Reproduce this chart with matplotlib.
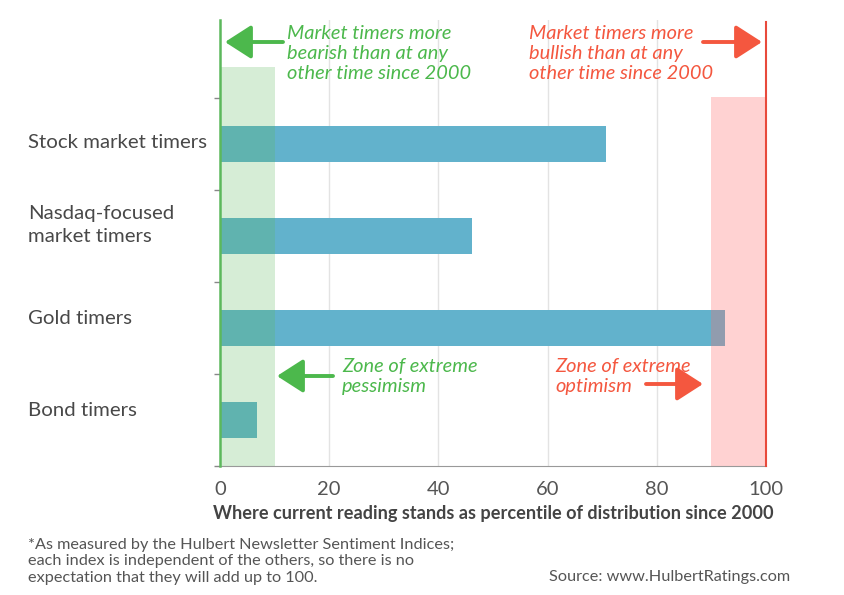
import matplotlib
matplotlib.use("Agg")
import matplotlib.pyplot as plt

categories = ["Stock market timers", "Nasdaq-focused\nmarket timers", "Gold timers", "Bond timers"]
values = [70.7, 46.2, 92.5, 6.8]
xticks = [0, 20, 40, 60, 80, 100]
pess_zone = (0, 10)
opt_zone = (90, 100)

plt.rcParams['font.family'] = ['Lato', 'DejaVu Sans']

W, H = 844, 595
fig = plt.figure(figsize=(W/100, H/100), dpi=100)
ax = fig.add_axes([220/W, 1-466/H, 546/W, 446/H])

ypos = list(range(len(categories)))
ax.barh(ypos, values, height=0.39, color='#62b2cc', zorder=2)
ax.set_ylim(3.5, 3.5 - 446/92)
ax.set_xlim(0, 100)

y_top_green = 3.5 - (466-67)/92
y_top_red = 3.5 - (466-97)/92
ax.fill_between(pess_zone, [3.5, 3.5], [y_top_green]*2, color='#5cb85c', alpha=0.25, lw=0, zorder=3)
ax.fill_between(opt_zone, [3.5, 3.5], [y_top_red]*2, color='#ff6b6b', alpha=0.3, lw=0, zorder=3)

for x in xticks[1:-1]:
    ax.axvline(x, color='#e3e3e3', lw=1, zorder=1)
ax.axvline(0, color='#5cb85c', lw=1.8, zorder=4, clip_on=False)
ax.axvline(100, ymax=1-2/446, color='#e84a3c', lw=1.5, zorder=4, clip_on=False)

for s in ['top', 'right', 'left']:
    ax.spines[s].set_visible(False)
ax.spines['bottom'].set_color('#999999')
ax.set_yticks([-0.5, 0.5, 1.5, 2.5, 3.5])
ax.set_yticklabels([])
ax.tick_params(axis='y', length=4, color='#888888', width=1)
ax.set_xticks(xticks)
ax.set_xticklabels([str(t) for t in xticks], fontsize=14.5, color='#555555')
ax.tick_params(axis='x', length=0, pad=11)
ax.set_xlabel("Where current reading stands as percentile of distribution since 2000",
              fontsize=13.1, color='#444444', fontweight='bold', labelpad=5)

label_y = [142, 225, 319, 410]
for c, yc in zip(categories, label_y):
    fig.text(28/W, 1-yc/H, c, ha='left', va='center', fontsize=14.7, color='#484848', linespacing=1.42)

green = '#4cb84c'
red = '#f4573f'
kw = dict(ha='left', va='top', fontsize=14.4, style='italic', linespacing=1.2)
fig.text(287/W, 1-25/H, "Market timers more\nbearish than at any\nother time since 2000", color=green, **kw)
fig.text(529/W, 1-25/H, "Market timers more\nbullish than at any\nother time since 2000", color=red, **kw)
fig.text(342/W, 1-358/H, "Zone of extreme\npessimism", color=green, **kw)
fig.text(555/W, 1-358/H, "Zone of extreme\noptimism", color=red, **kw)

def arrow(x0, x1, y, col):
    fig.add_artist(matplotlib.patches.FancyArrowPatch(
        (x0/W, 1-y/H), (x1/W, 1-y/H), transform=fig.transFigure,
        arrowstyle='-|>,head_length=7,head_width=4.5', mutation_scale=2.3,
        color=col, lw=2.8, shrinkA=0, shrinkB=0))

arrow(283, 225, 42, green)
arrow(703, 762, 42, red)
arrow(333, 277, 376, green)
arrow(646, 703, 384, red)

fig.text(28/W, 1-538/H, "*As measured by the Hulbert Newsletter Sentiment Indices;\neach index is independent of the others, so there is no\nexpectation that they will add up to 100.",
         ha='left', va='top', fontsize=11.7, color='#555555', linespacing=1.22)
fig.text(790/W, 1-577/H, "Source: www.HulbertRatings.com", ha='right', va='center',
         fontsize=11.7, color='#555555')

fig.savefig("out.png", dpi=100)
